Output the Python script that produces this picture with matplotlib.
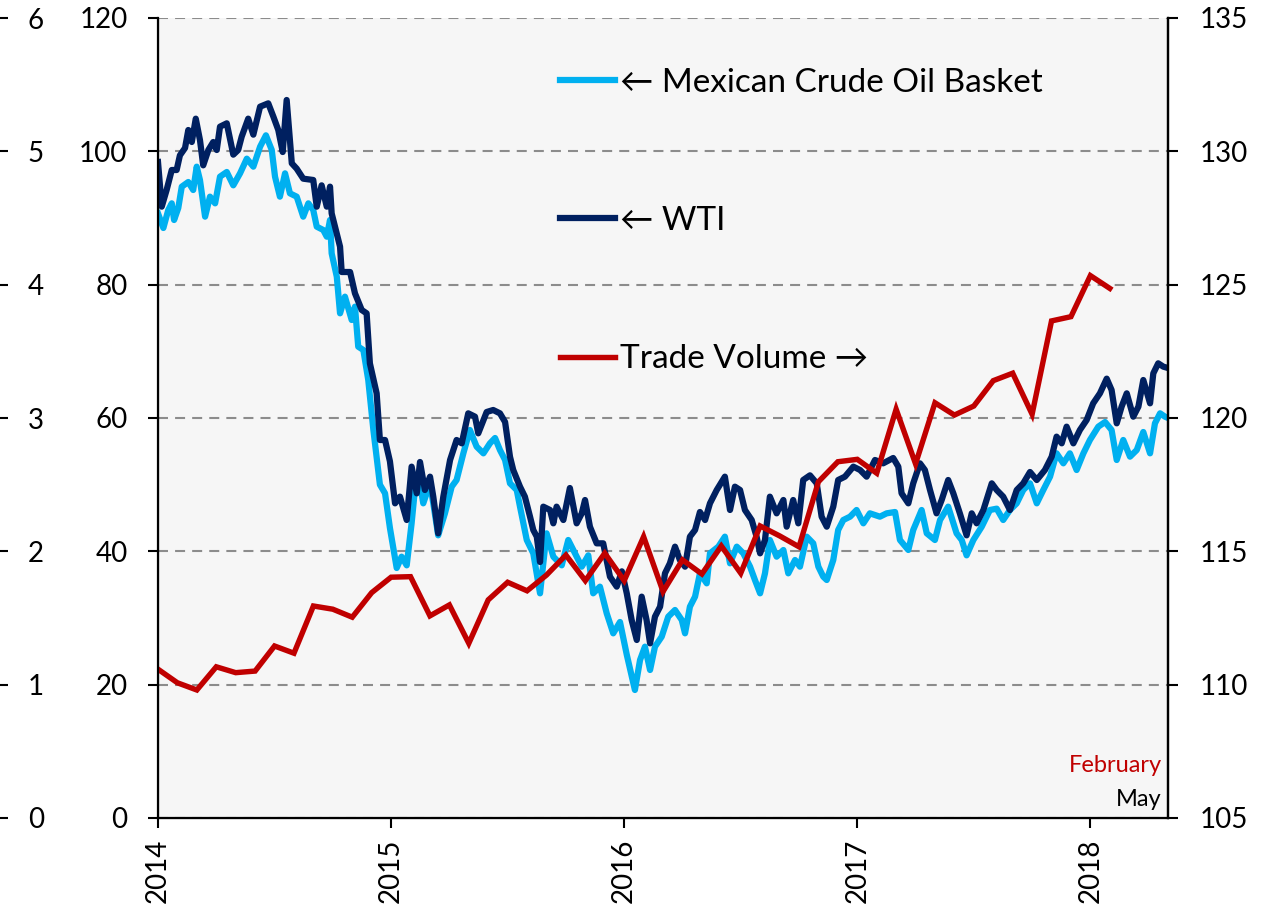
import numpy as np
import matplotlib
matplotlib.use("Agg")
import matplotlib.pyplot as plt

plt.rcParams['font.family'] = ['Lato', 'DejaVu Sans']

# time in decimal years, prices in USD per barrel (left axis)
wti_t = [2014.000, 2014.016, 2014.037, 2014.059, 2014.080, 2014.094, 2014.116, 2014.130, 2014.145, 2014.162,
         2014.180, 2014.194, 2014.216, 2014.237, 2014.252, 2014.266, 2014.295, 2014.323, 2014.344, 2014.359,
         2014.387, 2014.409, 2014.438, 2014.473, 2014.495, 2014.516, 2014.535, 2014.552, 2014.574, 2014.595,
         2014.623, 2014.666, 2014.681, 2014.702, 2014.724, 2014.738, 2014.745, 2014.781, 2014.788, 2014.824,
         2014.845, 2014.874, 2014.895, 2014.909, 2014.938, 2014.952, 2014.974, 2014.995, 2015.017, 2015.038,
         2015.067, 2015.088, 2015.110, 2015.124, 2015.145, 2015.167, 2015.181, 2015.202, 2015.224, 2015.253,
         2015.281, 2015.303, 2015.331, 2015.360, 2015.374, 2015.410, 2015.438, 2015.467, 2015.489, 2015.510,
         2015.524, 2015.553, 2015.574, 2015.596, 2015.610, 2015.625, 2015.639, 2015.653, 2015.682, 2015.696,
         2015.710, 2015.739, 2015.767, 2015.796, 2015.818, 2015.832, 2015.853, 2015.882, 2015.910, 2015.939,
         2015.968, 2015.990, 2016.011, 2016.032, 2016.054, 2016.075, 2016.096, 2016.111, 2016.132, 2016.154,
         2016.175, 2016.196, 2016.218, 2016.239, 2016.261, 2016.282, 2016.304, 2016.325, 2016.347, 2016.368,
         2016.397, 2016.432, 2016.454, 2016.475, 2016.497, 2016.518, 2016.547, 2016.568, 2016.583, 2016.604,
         2016.625, 2016.654, 2016.683, 2016.697, 2016.725, 2016.747, 2016.768, 2016.797, 2016.826, 2016.847,
         2016.869, 2016.897, 2016.918, 2016.947, 2016.983, 2017.012, 2017.040, 2017.076, 2017.111, 2017.154,
         2017.176, 2017.190, 2017.219, 2017.240, 2017.269, 2017.290, 2017.312, 2017.340, 2017.362, 2017.390,
         2017.412, 2017.440, 2017.469, 2017.491, 2017.512, 2017.541, 2017.577, 2017.598, 2017.626, 2017.655,
         2017.684, 2017.712, 2017.741, 2017.770, 2017.805, 2017.834, 2017.855, 2017.877, 2017.898, 2017.927,
         2017.955, 2017.984, 2018.012, 2018.041, 2018.070, 2018.091, 2018.113, 2018.134, 2018.156, 2018.184,
         2018.206, 2018.227, 2018.256, 2018.270, 2018.291, 2018.313, 2018.333]
wti_px = [98.4, 91.7, 94.2, 97.2, 97.2, 99.4, 100.5, 103.2, 101.4, 104.9,
          101.7, 97.9, 100.2, 101.4, 100.2, 103.7, 104.2, 99.5, 100.2, 102.2,
          104.9, 102.5, 106.7, 107.2, 105.2, 103.2, 99.9, 107.7, 98.2, 97.4,
          95.9, 95.7, 91.7, 94.9, 91.7, 94.7, 90.7, 85.7, 81.9, 81.9,
          78.7, 76.2, 75.7, 68.2, 63.7, 56.7, 56.7, 53.5, 47.2, 48.2,
          44.7, 52.7, 48.7, 53.4, 49.2, 51.2, 48.2, 42.7, 48.2, 53.7,
          56.7, 56.2, 60.7, 60.2, 57.7, 60.9, 61.2, 60.7, 59.4, 54.2,
          52.2, 49.7, 48.2, 45.2, 43.2, 42.2, 38.4, 46.7, 46.2, 44.2,
          46.7, 44.7, 49.5, 44.2, 45.7, 47.7, 43.7, 41.2, 41.2, 36.2,
          34.7, 37.0, 33.7, 29.7, 26.7, 33.2, 29.7, 26.2, 30.2, 31.7,
          36.7, 38.2, 40.7, 38.7, 37.7, 42.2, 43.2, 45.9, 44.7, 47.2,
          49.2, 51.2, 46.2, 49.7, 49.2, 46.2, 44.7, 42.2, 39.7, 41.7,
          48.2, 45.7, 47.7, 43.7, 47.7, 44.2, 50.7, 51.4, 50.2, 45.2,
          43.7, 46.7, 50.7, 51.2, 52.7, 52.2, 51.2, 53.7, 53.2, 54.0,
          52.7, 48.7, 47.2, 50.2, 53.2, 52.2, 49.2, 45.7, 47.7, 50.7,
          48.7, 45.7, 42.4, 45.7, 44.2, 46.2, 50.2, 49.2, 48.2, 46.2,
          49.2, 50.2, 51.9, 50.7, 52.2, 54.2, 57.2, 56.2, 58.7, 56.2,
          58.2, 59.7, 62.2, 63.7, 65.9, 64.2, 59.2, 61.7, 63.7, 60.2,
          61.7, 65.7, 62.2, 66.7, 68.2, 67.7, 67.5]

mex_t = [2014.000, 2014.023, 2014.044, 2014.059, 2014.069, 2014.087, 2014.102, 2014.130, 2014.151, 2014.166,
         2014.180, 2014.202, 2014.223, 2014.245, 2014.266, 2014.295, 2014.323, 2014.352, 2014.381, 2014.409,
         2014.438, 2014.463, 2014.488, 2014.502, 2014.523, 2014.545, 2014.566, 2014.595, 2014.623, 2014.645,
         2014.666, 2014.681, 2014.709, 2014.724, 2014.738, 2014.745, 2014.767, 2014.781, 2014.802, 2014.831,
         2014.845, 2014.859, 2014.881, 2014.902, 2014.924, 2014.952, 2014.974, 2014.995, 2015.024, 2015.045,
         2015.067, 2015.088, 2015.102, 2015.117, 2015.138, 2015.167, 2015.181, 2015.202, 2015.231, 2015.260,
         2015.281, 2015.310, 2015.338, 2015.367, 2015.396, 2015.424, 2015.446, 2015.467, 2015.489, 2015.510,
         2015.539, 2015.553, 2015.582, 2015.610, 2015.639, 2015.667, 2015.696, 2015.732, 2015.760, 2015.789,
         2015.818, 2015.846, 2015.867, 2015.896, 2015.925, 2015.953, 2015.982, 2016.011, 2016.046, 2016.068,
         2016.089, 2016.111, 2016.132, 2016.161, 2016.189, 2016.218, 2016.247, 2016.261, 2016.282, 2016.304,
         2016.325, 2016.354, 2016.368, 2016.404, 2016.432, 2016.454, 2016.483, 2016.511, 2016.540, 2016.561,
         2016.583, 2016.604, 2016.625, 2016.654, 2016.683, 2016.704, 2016.733, 2016.754, 2016.783, 2016.811,
         2016.833, 2016.854, 2016.869, 2016.897, 2016.918, 2016.940, 2016.969, 2016.997, 2017.026, 2017.054,
         2017.097, 2017.126, 2017.162, 2017.183, 2017.219, 2017.240, 2017.276, 2017.298, 2017.333, 2017.355,
         2017.390, 2017.426, 2017.448, 2017.469, 2017.498, 2017.534, 2017.569, 2017.598, 2017.626, 2017.655,
         2017.684, 2017.712, 2017.741, 2017.770, 2017.798, 2017.827, 2017.855, 2017.884, 2017.912, 2017.941,
         2017.970, 2017.998, 2018.034, 2018.063, 2018.091, 2018.113, 2018.141, 2018.170, 2018.199, 2018.227,
         2018.256, 2018.277, 2018.299, 2018.320, 2018.333]
mex_px = [90.7, 88.5, 91.2, 92.2, 89.7, 91.5, 94.7, 95.4, 94.2, 97.7,
          95.7, 90.2, 93.2, 92.2, 96.2, 96.9, 94.9, 96.7, 98.9, 97.7,
          100.7, 102.4, 100.2, 96.2, 93.2, 96.7, 93.7, 93.2, 90.2, 92.2,
          91.2, 88.7, 88.2, 87.2, 89.7, 84.7, 81.2, 75.7, 78.2, 74.7,
          76.7, 70.7, 70.2, 65.7, 58.2, 50.0, 48.7, 43.5, 37.5, 39.2,
          37.9, 44.2, 49.2, 51.7, 47.2, 50.2, 47.2, 42.4, 45.7, 49.7,
          50.7, 54.7, 58.2, 55.7, 54.7, 56.2, 57.0, 55.2, 53.7, 50.2,
          49.2, 46.7, 41.7, 39.7, 33.7, 42.7, 39.2, 37.9, 41.7, 39.7,
          37.7, 39.4, 33.7, 34.7, 30.7, 27.7, 29.4, 24.5, 19.2, 23.7,
          25.7, 22.2, 25.7, 27.2, 30.2, 31.2, 29.7, 27.7, 31.7, 33.2,
          36.7, 35.2, 39.7, 40.7, 42.2, 38.2, 40.7, 39.7, 37.7, 35.7,
          33.7, 36.7, 41.7, 39.2, 40.2, 36.7, 38.7, 37.7, 42.2, 41.2,
          37.7, 36.2, 35.7, 38.7, 43.2, 44.7, 45.2, 46.2, 44.2, 45.7,
          45.2, 45.7, 45.9, 41.7, 40.2, 43.2, 46.2, 42.7, 41.7, 44.7,
          46.7, 42.7, 41.7, 39.4, 41.7, 43.7, 46.2, 46.4, 44.7, 46.2,
          47.2, 49.2, 50.2, 47.2, 49.2, 51.2, 54.7, 53.2, 54.7, 52.2,
          54.7, 56.7, 58.7, 59.4, 58.2, 53.7, 56.7, 54.2, 55.2, 57.9,
          54.7, 59.2, 60.7, 60.2, 60.0]

# monthly trade volume (right axis)
trade_months = ['2014-01', '2014-02', '2014-03', '2014-04', '2014-05', '2014-06', '2014-07', '2014-08',
                '2014-09', '2014-10', '2014-11', '2014-12', '2015-01', '2015-02', '2015-03', '2015-04',
                '2015-05', '2015-06', '2015-07', '2015-08', '2015-09', '2015-10', '2015-11', '2015-12',
                '2016-01', '2016-02', '2016-03', '2016-04', '2016-05', '2016-06', '2016-07', '2016-08',
                '2016-09', '2016-10', '2016-11', '2016-12', '2017-01', '2017-02', '2017-03', '2017-04',
                '2017-05', '2017-06', '2017-07', '2017-08', '2017-09', '2017-10', '2017-11', '2017-12',
                '2018-01', '2018-02']
trade_vol = [110.58, 110.07, 109.80, 110.67, 110.45, 110.51, 111.45, 111.18,
             112.95, 112.83, 112.53, 113.45, 114.03, 114.05, 112.58, 112.99,
             111.55, 113.18, 113.84, 113.52, 114.11, 114.86, 113.90, 114.93,
             113.90, 115.55, 113.49, 114.68, 114.15, 115.20, 114.18, 115.95,
             115.58, 115.17, 117.61, 118.36, 118.45, 117.93, 120.33, 118.28,
             120.57, 120.11, 120.45, 121.40, 121.68, 120.14, 123.64, 123.80,
             125.34, 124.86]

trade_t = [int(m[:4]) + (int(m[5:]) - 1) / 12 for m in trade_months]

fig = plt.figure(figsize=(12.74, 9.07), dpi=100)
ax = fig.add_axes([158 / 1274, 89 / 907, 1010 / 1274, 800 / 907])
ax.set_facecolor('#F6F6F6')

l1, = ax.plot(mex_t, mex_px, color='#00B0F0', lw=4.5, solid_joinstyle='round',
              label='\u2190 Mexican Crude Oil Basket')
l2, = ax.plot(wti_t, wti_px, color='#002060', lw=4.5, solid_joinstyle='round',
              label='\u2190 WTI')
ax.set_xlim(2014, 2018.333)
ax.set_ylim(0, 120)
ax.set_yticks(np.arange(0, 121, 20))
ax.set_xticks([2014, 2015, 2016, 2017, 2018])
ax.set_xticklabels(['2014', '2015', '2016', '2017', '2018'], rotation=90)
ax.yaxis.grid(True, color='#8C8C8C', lw=1.5, linestyle=(0, (4.8, 3.4)))
ax.set_axisbelow(True)
ax.tick_params(axis='y', direction='out', length=7, width=1.5, labelsize=20, pad=15)
ax.tick_params(axis='x', direction='out', length=7, width=1.5, labelsize=20, pad=8)
ax.spines['top'].set_visible(False)
for s in ['left', 'bottom', 'right']:
    ax.spines[s].set_linewidth(1.6)

ax2 = ax.twinx()
l3, = ax2.plot(trade_t, trade_vol, color='#C00000', lw=3.9, solid_joinstyle='miter',
               label='Trade Volume \u2192')
ax2.set_ylim(105, 135)
ax2.set_yticks(np.arange(105, 136, 5))
ax2.tick_params(axis='y', direction='out', length=7, width=1.5, labelsize=20, pad=16)
ax2.spines['top'].set_visible(False)
ax2.spines['right'].set_linewidth(1.6)

# outer scale at the far left
ax3 = ax.twinx()
ax3.set_ylim(0, 6)
ax3.set_yticks(np.arange(0, 7, 1))
ax3.spines['right'].set_position(('axes', -158 / 1010))
for s in ['left', 'right', 'top', 'bottom']:
    ax3.spines[s].set_visible(False)
ax3.tick_params(axis='y', direction='out', length=6, width=1.5, labelsize=20, pad=14)

leg = ax2.legend(handles=[l1, l2, l3], loc='upper left', bbox_to_anchor=(0.398, 0.938),
                 frameon=False, fontsize=24, handlelength=1.65, handletextpad=0.15,
                 labelspacing=3.25, borderpad=0, borderaxespad=0)

ax2.text(0.994, 0.066, 'February', color='#C00000', fontsize=17, ha='right', va='center',
         transform=ax2.transAxes)
ax2.text(0.994, 0.0225, 'May', color='black', fontsize=17, ha='right', va='center',
         transform=ax2.transAxes)

fig.savefig('out.png', dpi=100)
